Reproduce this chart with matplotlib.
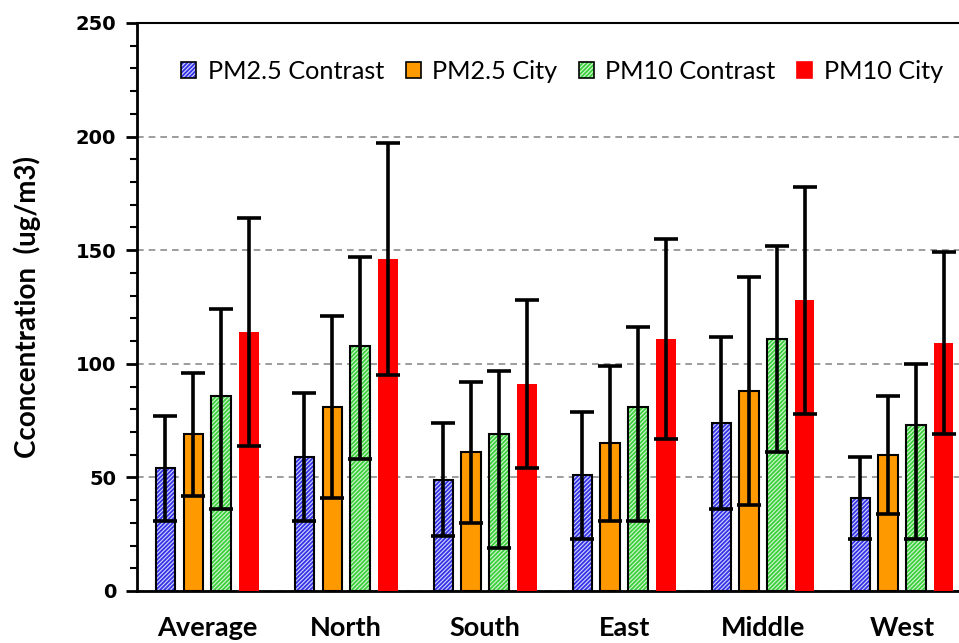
import matplotlib
matplotlib.use("Agg")
import matplotlib.pyplot as plt
import numpy as np
from matplotlib.patches import Patch
from matplotlib.legend_handler import HandlerTuple

plt.rcParams["hatch.linewidth"] = 1.3

categories = ["Average", "North", "South", "East", "Middle", "West"]
series_names = ["PM2.5 Contrast", "PM2.5 City", "PM10 Contrast", "PM10 City"]

pm25_contrast = [54, 59, 49, 51, 74, 41]
pm25_contrast_hi = [77, 87, 74, 79, 112, 59]
pm25_contrast_lo = [31, 31, 24, 23, 36, 23]

pm25_city = [69, 81, 61, 65, 88, 60]
pm25_city_hi = [96, 121, 92, 99, 138, 86]
pm25_city_lo = [42, 41, 30, 31, 38, 34]

pm10_contrast = [86, 108, 69, 81, 111, 73]
pm10_contrast_hi = [124, 147, 97, 116, 152, 100]
pm10_contrast_lo = [36, 58, 19, 31, 61, 23]

pm10_city = [114, 146, 91, 111, 128, 109]
pm10_city_hi = [164, 197, 128, 155, 178, 149]
pm10_city_lo = [64, 95, 54, 67, 78, 69]

values = [pm25_contrast, pm25_city, pm10_contrast, pm10_city]
his = [pm25_contrast_hi, pm25_city_hi, pm10_contrast_hi, pm10_city_hi]
los = [pm25_contrast_lo, pm25_city_lo, pm10_contrast_lo, pm10_city_lo]

fig = plt.figure(figsize=(9.59, 6.43), dpi=100)
ax = fig.add_axes([137/959, 1-591/643, 1-137/959, (591-23)/643])

x = np.arange(len(categories))
width = 0.14
offsets = [-0.3, -0.1, 0.1, 0.3]

styles = [
    dict(face="#d4d4ff", hatch="////////", hcolor="#3434e6", edge="black"),
    dict(face="#FF9900", hatch=None, hcolor=None, edge="black"),
    dict(face="#d4f7d4", hatch="////////", hcolor="#3ccf3c", edge="black"),
    dict(face="#FF0000", hatch=None, hcolor=None, edge="none"),
]

for i in range(4):
    v = np.array(values[i])
    hi = np.array(his[i])
    lo = np.array(los[i])
    st = styles[i]
    pos = x + offsets[i]
    if st["hatch"]:
        ax.bar(pos, v, width, color=st["face"], edgecolor=st["hcolor"], hatch=st["hatch"], linewidth=0, zorder=2)
        ax.bar(pos, v, width, fill=False, edgecolor="black", linewidth=1.5, zorder=3)
    else:
        ax.bar(pos, v, width, color=st["face"], edgecolor=st["edge"], linewidth=1.5 if st["edge"] != "none" else 0, zorder=3)
    ax.errorbar(pos, v, yerr=[v - lo, hi - v], fmt="none", ecolor="black", elinewidth=2.6,
                capsize=8.5, capthick=2.6, zorder=4)

ax.set_xlim(-0.505, 5.41)
ax.set_ylim(0, 250)
ax.set_yticks([0, 50, 100, 150, 200, 250])
ax.set_yticks(np.arange(0, 251, 10), minor=True)
ax.yaxis.grid(True, which="major", linestyle=(0, (4, 3)), color="#8c8c8c", linewidth=1.2, zorder=0)
ax.set_axisbelow(True)

ax.spines["right"].set_visible(False)
ax.spines["left"].set_linewidth(2)
ax.spines["bottom"].set_linewidth(2)
ax.spines["top"].set_linewidth(1.5)

ax.tick_params(axis="y", which="major", direction="out", length=8, width=2, labelsize=14, pad=7)
ax.tick_params(axis="y", which="minor", direction="out", length=5, width=1.5)
ax.tick_params(axis="x", which="both", length=0, pad=18)
for lab in ax.get_yticklabels():
    lab.set_fontweight("bold")
    lab.set_family("DejaVu Sans")

ax.set_xticks(x)
ax.set_xticklabels(categories, fontsize=19.5, fontweight="bold", family="Lato")

ax.set_ylabel("Cconcentration  (ug/m3)", fontsize=20, fontweight="bold", family="Lato")
ax.yaxis.set_label_coords(-0.117, 0.5)

handles = []
for i in range(4):
    st = styles[i]
    if st["hatch"]:
        handles.append((Patch(facecolor=st["face"], edgecolor=st["hcolor"], hatch=st["hatch"], linewidth=0),
                        Patch(fill=False, edgecolor="black", linewidth=1.2)))
    else:
        handles.append(Patch(facecolor=st["face"], edgecolor=st["edge"] if st["edge"] != "none" else st["face"], linewidth=1.2))

leg = ax.legend(handles, series_names, loc="center", bbox_to_anchor=(0.517, 0.915), ncol=4, frameon=False,
                prop=dict(family="Lato", size=18.2), handlelength=0.6, handleheight=0.6, handletextpad=0.45,
                columnspacing=0.85, borderpad=0, borderaxespad=0,
                handler_map={tuple: HandlerTuple(ndivide=1, pad=0)})

fig.savefig("out.png", dpi=100)
